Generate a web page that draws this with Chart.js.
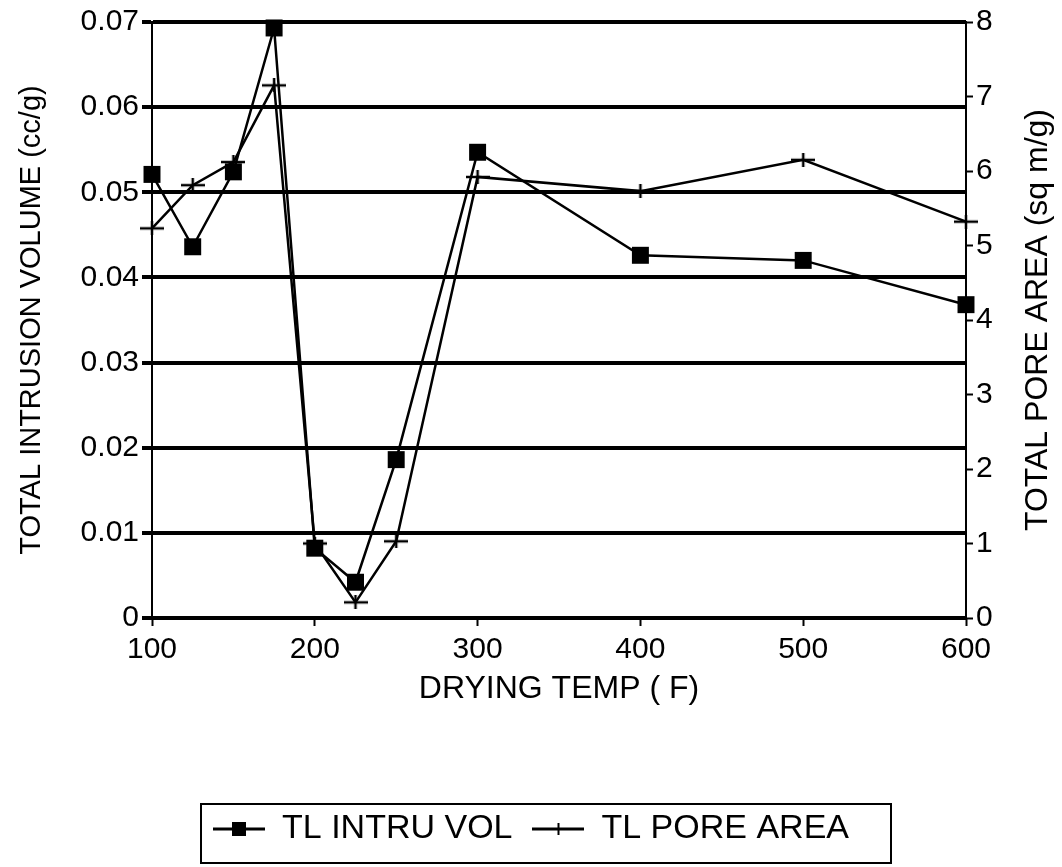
<!DOCTYPE html>
<html>
<head>
<meta charset="utf-8">
<title>Drying temperature vs intrusion volume and pore area</title>
<script src="https://cdn.jsdelivr.net/npm/chart.js@4.4.1/dist/chart.umd.min.js"></script>
<style>
  html, body { margin: 0; padding: 0; background: #fff; }
  #wrap { width: 1062px; height: 867px; }
</style>
</head>
<body>
<div id="wrap"><canvas id="dryingChart" width="1062" height="867"></canvas></div>
<script>
// drying temperature (F) for each sample
const dryingTemps = [100, 125, 150, 175, 200, 225, 250, 300, 400, 500, 600];
// total intrusion volume, cc/g (left axis)
const intrusionVolume = [0.0521, 0.0436, 0.0524, 0.0693, 0.0082, 0.0042, 0.0186, 0.0547, 0.0426, 0.0420, 0.0368];
// total pore area, sq m/g (right axis)
const poreArea = [5.23, 5.81, 6.12, 7.15, 1.0, 0.21, 1.03, 5.92, 5.73, 6.15, 5.32];

const seriesLabels = ['TL INTRU VOL', 'TL PORE AREA'];
const xTitle = 'DRYING TEMP ( F)';
const leftTitle = 'TOTAL INTRUSION VOLUME (cc/g)';
const rightTitle = 'TOTAL PORE AREA (sq m/g)';

const FONT = "'Liberation Sans', Arial, Helvetica, sans-serif";
const INK = '#000';

// wide, flat "+" used for the pore area points
function makePlusMarker() {
  const c = document.createElement('canvas');
  c.width = 24; c.height = 14;
  const g = c.getContext('2d');
  g.strokeStyle = INK;
  g.lineWidth = 2.5;
  g.beginPath();
  g.moveTo(0, 7); g.lineTo(24, 7);
  g.moveTo(12, 0); g.lineTo(12, 14);
  g.stroke();
  return c;
}

// legend swatch: short line with the series marker in the middle
function makeLegendSymbol(kind) {
  const c = document.createElement('canvas');
  c.width = 52; c.height = 20;
  const g = c.getContext('2d');
  g.strokeStyle = INK;
  g.fillStyle = INK;
  g.lineWidth = 3;
  g.beginPath();
  g.moveTo(0, 10); g.lineTo(52, 10);
  g.stroke();
  if (kind === 'square') {
    g.fillRect(19, 3, 14, 14);
  } else {
    g.lineWidth = 2;
    g.beginPath();
    g.moveTo(26, 4); g.lineTo(26, 16);
    g.stroke();
  }
  return c;
}

const plusMarker = makePlusMarker();
const legendSymbols = [makeLegendSymbol('square'), makeLegendSymbol('plus')];

// frame around the legend items
const legendFrame = {
  id: 'legendFrame',
  afterDraw(chart) {
    const boxes = chart.legend && chart.legend.legendHitBoxes;
    if (!boxes || !boxes.length) return;
    const left = Math.min(...boxes.map(b => b.left)) - 12;
    const right = Math.max(...boxes.map(b => b.left + b.width)) + 42;
    const mid = boxes[0].top + boxes[0].height / 2;
    const top = mid - 25;
    const bottom = mid + 34;
    const ctx = chart.ctx;
    ctx.save();
    ctx.strokeStyle = INK;
    ctx.lineWidth = 2;
    ctx.strokeRect(left, top, right - left, bottom - top);
    ctx.restore();
  }
};

// right axis title reads bottom-to-top like the left one
const rightAxisTitle = {
  id: 'rightAxisTitle',
  afterDraw(chart) {
    const area = chart.chartArea;
    const ctx = chart.ctx;
    ctx.save();
    ctx.translate(1038, (area.top + area.bottom) / 2);
    ctx.rotate(-Math.PI / 2);
    ctx.font = '32px ' + FONT;
    ctx.fillStyle = INK;
    ctx.textAlign = 'center';
    ctx.textBaseline = 'middle';
    ctx.fillText(rightTitle, 0, 0);
    ctx.restore();
  }
};

const volumePoints = dryingTemps.map((t, i) => ({ x: t, y: intrusionVolume[i] }));
const areaPoints = dryingTemps.map((t, i) => ({ x: t, y: poreArea[i] }));

const ctx = document.getElementById('dryingChart').getContext('2d');
new Chart(ctx, {
  type: 'line',
  data: {
    datasets: [
      {
        label: seriesLabels[0],
        data: volumePoints,
        yAxisID: 'yVol',
        borderColor: INK,
        backgroundColor: INK,
        borderWidth: 2.5,
        pointStyle: 'rect',
        pointRadius: 12,
        pointBorderWidth: 0,
        tension: 0,
        clip: false
      },
      {
        label: seriesLabels[1],
        data: areaPoints,
        yAxisID: 'yArea',
        borderColor: INK,
        backgroundColor: INK,
        borderWidth: 2.5,
        pointStyle: plusMarker,
        pointRadius: 10,
        tension: 0,
        clip: false
      }
    ]
  },
  options: {
    responsive: false,
    animation: false,
    devicePixelRatio: 1,
    layout: { padding: { top: 22, left: 0, right: 0, bottom: 11 } },
    plugins: {
      tooltip: { enabled: false },
      legend: {
        position: 'bottom',
        labels: {
          usePointStyle: true,
          pointStyleWidth: 52,
          padding: 20,
          color: INK,
          font: { family: FONT, size: 34 },
          generateLabels(chart) {
            return chart.data.datasets.map((ds, i) => ({
              text: ds.label,
              pointStyle: legendSymbols[i],
              fontColor: INK,
              lineWidth: 0,
              datasetIndex: i
            }));
          }
        }
      }
    },
    scales: {
      x: {
        type: 'linear',
        min: 100,
        max: 600,
        afterFit(scale) { scale.height = 174; },
        ticks: {
          stepSize: 100,
          padding: 6,
          color: INK,
          font: { family: FONT, size: 30 }
        },
        grid: {
          drawOnChartArea: false,
          tickLength: 8,
          tickWidth: 2,
          tickColor: INK
        },
        border: { display: false },
        title: {
          display: true,
          text: xTitle,
          color: INK,
          font: { family: FONT, size: 32 },
          padding: { top: 4, bottom: 84 }
        }
      },
      yVol: {
        position: 'left',
        min: 0,
        max: 0.07,
        afterFit(scale) { scale.width = 152; },
        ticks: {
          stepSize: 0.01,
          padding: 3,
          color: INK,
          font: { family: FONT, size: 30 },
          callback: v => (Math.round(v * 100) / 100).toString()
        },
        grid: {
          color: INK,
          lineWidth: 4,
          tickLength: 10,
          tickWidth: 4,
          tickColor: INK
        },
        border: { display: true, color: INK, width: 2 },
        title: {
          display: true,
          text: leftTitle,
          color: INK,
          font: { family: FONT, size: 29 },
          padding: { top: 15, bottom: 0 }
        }
      },
      yArea: {
        position: 'right',
        min: 0,
        max: 8,
        afterFit(scale) { scale.width = 96; },
        ticks: {
          stepSize: 1,
          padding: 3,
          color: INK,
          font: { family: FONT, size: 30 }
        },
        grid: {
          drawOnChartArea: false,
          tickLength: 7,
          tickWidth: 2,
          tickColor: INK
        },
        border: { display: true, color: INK, width: 2 }
      }
    }
  },
  plugins: [legendFrame, rightAxisTitle]
});
</script>
</body>
</html>
